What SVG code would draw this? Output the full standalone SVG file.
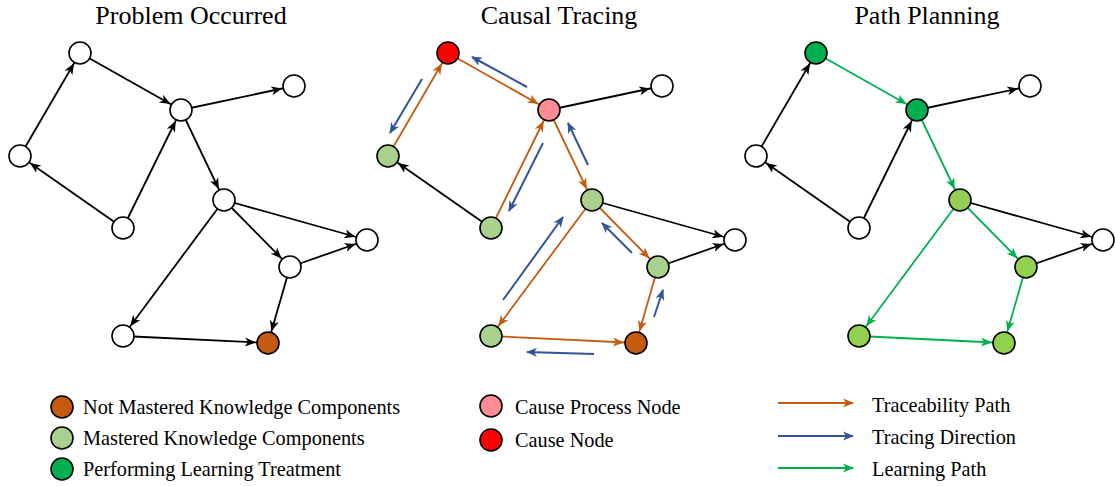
<svg xmlns="http://www.w3.org/2000/svg" width="1115" height="486" viewBox="0 0 1115 486">
<style>
.t{font-family:"Liberation Serif","Times New Roman",serif;fill:#000}
.title{font-size:26px;text-anchor:middle}
.lg{font-size:20.3px}
.n{stroke:#000;stroke-width:1.6}
.w{fill:#fff}.or{fill:#C55A11}.lgr{fill:#A9D18E}.dgr{fill:#00B050}.mgr{fill:#92D050}.pk{fill:#FF8C94}.rd{fill:#FF0000}
.e{fill:none;stroke-width:1.8}
.k{stroke:#000;marker-end:url(#mk)}
.o{stroke:#C55A11;marker-end:url(#mo)}
.g{stroke:#00B050;marker-end:url(#mg)}
.b{stroke:#2F5597;stroke-width:2;marker-end:url(#mb)}
</style>
<defs>
<marker id="mk" markerUnits="userSpaceOnUse" markerWidth="12" markerHeight="10" refX="23" refY="5" orient="auto" overflow="visible"><path d="M0,0.5 L11,5 L0,9.5 L3,5 Z" fill="#000"/></marker>
<marker id="mo" markerUnits="userSpaceOnUse" markerWidth="12" markerHeight="10" refX="23" refY="5" orient="auto" overflow="visible"><path d="M0,0.5 L11,5 L0,9.5 L3,5 Z" fill="#C55A11"/></marker>
<marker id="mg" markerUnits="userSpaceOnUse" markerWidth="12" markerHeight="10" refX="23" refY="5" orient="auto" overflow="visible"><path d="M0,0.5 L11,5 L0,9.5 L3,5 Z" fill="#00B050"/></marker>
<marker id="mb" markerUnits="userSpaceOnUse" markerWidth="12" markerHeight="10" refX="10" refY="5" orient="auto" overflow="visible"><path d="M0,0.5 L11,5 L0,9.5 L3,5 Z" fill="#2F5597"/></marker>
<marker id="lo" markerUnits="userSpaceOnUse" markerWidth="12" markerHeight="10" refX="10" refY="5" orient="auto" overflow="visible"><path d="M0,0.5 L11,5 L0,9.5 L3,5 Z" fill="#C55A11"/></marker>
<marker id="lb" markerUnits="userSpaceOnUse" markerWidth="12" markerHeight="10" refX="10" refY="5" orient="auto" overflow="visible"><path d="M0,0.5 L11,5 L0,9.5 L3,5 Z" fill="#2F5597"/></marker>
<marker id="lgm" markerUnits="userSpaceOnUse" markerWidth="12" markerHeight="10" refX="10" refY="5" orient="auto" overflow="visible"><path d="M0,0.5 L11,5 L0,9.5 L3,5 Z" fill="#00B050"/></marker>
</defs>

<g id="titles">
<text class="t title" x="191" y="23.5">Problem Occurred</text>
<text class="t title" x="559" y="23.5">Causal Tracing</text>
<text class="t title" x="927" y="23.5">Path Planning</text>
</g>

<!-- Panel 1 -->
<g id="p1-connectors">
<line class="e k" x1="20" y1="156" x2="80" y2="53"/>
<line class="e k" x1="80" y1="53" x2="181" y2="110"/>
<line class="e k" x1="123" y1="228" x2="20" y2="156"/>
<line class="e k" x1="123" y1="228" x2="181" y2="110"/>
<line class="e k" x1="181" y1="110" x2="294" y2="86"/>
<line class="e k" x1="181" y1="110" x2="224" y2="200"/>
<line class="e k" x1="224" y1="200" x2="367" y2="240"/>
<line class="e k" x1="224" y1="200" x2="290" y2="267"/>
<line class="e k" x1="224" y1="200" x2="123" y2="336"/>
<line class="e k" x1="290" y1="267" x2="367" y2="240"/>
<line class="e k" x1="290" y1="267" x2="268" y2="343"/>
<line class="e k" x1="123" y1="336" x2="268" y2="343"/>
</g>
<g id="p1-A"><circle class="n w" cx="80" cy="53" r="11"/></g>
<g id="p1-B"><circle class="n w" cx="181" cy="110" r="11"/></g>
<g id="p1-C"><circle class="n w" cx="294" cy="86" r="11"/></g>
<g id="p1-D"><circle class="n w" cx="20" cy="156" r="11"/></g>
<g id="p1-E"><circle class="n w" cx="123" cy="228" r="11"/></g>
<g id="p1-F"><circle class="n w" cx="224" cy="200" r="11"/></g>
<g id="p1-G"><circle class="n w" cx="367" cy="240" r="11"/></g>
<g id="p1-H"><circle class="n w" cx="290" cy="267" r="11"/></g>
<g id="p1-I"><circle class="n w" cx="123" cy="336" r="11"/></g>
<g id="p1-J"><circle class="n or" cx="268" cy="343" r="11"/></g>

<!-- Panel 2 -->
<g id="p2-connectors">
<line class="e o" x1="388" y1="156" x2="448" y2="53"/>
<line class="e o" x1="448" y1="53" x2="549" y2="110"/>
<line class="e k" x1="491" y1="228" x2="388" y2="156"/>
<line class="e o" x1="491" y1="228" x2="549" y2="110"/>
<line class="e k" x1="549" y1="110" x2="662" y2="86"/>
<line class="e o" x1="549" y1="110" x2="592" y2="200"/>
<line class="e k" x1="592" y1="200" x2="735" y2="240"/>
<line class="e o" x1="592" y1="200" x2="658" y2="267"/>
<line class="e o" x1="592" y1="200" x2="491" y2="336"/>
<line class="e k" x1="658" y1="267" x2="735" y2="240"/>
<line class="e o" x1="658" y1="267" x2="636" y2="343"/>
<line class="e o" x1="491" y1="336" x2="636" y2="343"/>
</g>
<g id="p2-tracing">
<line class="e b" x1="527" y1="87" x2="472" y2="57"/>
<line class="e b" x1="422" y1="79" x2="390" y2="133"/>
<line class="e b" x1="543" y1="143" x2="509" y2="211"/>
<line class="e b" x1="588" y1="165" x2="568" y2="123"/>
<line class="e b" x1="632" y1="253" x2="602" y2="223"/>
<line class="e b" x1="503" y1="300" x2="563" y2="217"/>
<line class="e b" x1="654" y1="317" x2="663" y2="290"/>
<line class="e b" x1="594" y1="354" x2="527" y2="352"/>
</g>
<g id="p2-A"><circle class="n rd" cx="448" cy="53" r="11"/></g>
<g id="p2-B"><circle class="n pk" cx="549" cy="110" r="11"/></g>
<g id="p2-C"><circle class="n w" cx="662" cy="86" r="11"/></g>
<g id="p2-D"><circle class="n lgr" cx="388" cy="156" r="11"/></g>
<g id="p2-E"><circle class="n lgr" cx="491" cy="228" r="11"/></g>
<g id="p2-F"><circle class="n lgr" cx="592" cy="200" r="11"/></g>
<g id="p2-G"><circle class="n w" cx="735" cy="240" r="11"/></g>
<g id="p2-H"><circle class="n lgr" cx="658" cy="267" r="11"/></g>
<g id="p2-I"><circle class="n lgr" cx="491" cy="336" r="11"/></g>
<g id="p2-J"><circle class="n or" cx="636" cy="343" r="11"/></g>

<!-- Panel 3 -->
<g id="p3-connectors">
<line class="e k" x1="756" y1="156" x2="816" y2="53"/>
<line class="e g" x1="816" y1="53" x2="917" y2="110"/>
<line class="e k" x1="859" y1="228" x2="756" y2="156"/>
<line class="e k" x1="859" y1="228" x2="917" y2="110"/>
<line class="e k" x1="917" y1="110" x2="1030" y2="86"/>
<line class="e g" x1="917" y1="110" x2="960" y2="200"/>
<line class="e k" x1="960" y1="200" x2="1103" y2="240"/>
<line class="e g" x1="960" y1="200" x2="1026" y2="267"/>
<line class="e g" x1="960" y1="200" x2="859" y2="336"/>
<line class="e k" x1="1026" y1="267" x2="1103" y2="240"/>
<line class="e g" x1="1026" y1="267" x2="1004" y2="343"/>
<line class="e g" x1="859" y1="336" x2="1004" y2="343"/>
</g>
<g id="p3-A"><circle class="n dgr" cx="816" cy="53" r="11"/></g>
<g id="p3-B"><circle class="n dgr" cx="917" cy="110" r="11"/></g>
<g id="p3-C"><circle class="n w" cx="1030" cy="86" r="11"/></g>
<g id="p3-D"><circle class="n w" cx="756" cy="156" r="11"/></g>
<g id="p3-E"><circle class="n w" cx="859" cy="228" r="11"/></g>
<g id="p3-F"><circle class="n mgr" cx="960" cy="200" r="11"/></g>
<g id="p3-G"><circle class="n w" cx="1103" cy="240" r="11"/></g>
<g id="p3-H"><circle class="n mgr" cx="1026" cy="267" r="11"/></g>
<g id="p3-I"><circle class="n mgr" cx="859" cy="336" r="11"/></g>
<g id="p3-J"><circle class="n mgr" cx="1004" cy="343" r="11"/></g>

<!-- Legends -->
<g id="legend-nodes">
<circle class="n or" cx="62" cy="407" r="11"/>
<text class="t lg" x="83" y="414">Not Mastered Knowledge Components</text>
<circle class="n lgr" cx="62" cy="438" r="11"/>
<text class="t lg" x="83" y="445">Mastered Knowledge Components</text>
<circle class="n dgr" cx="62" cy="469" r="11"/>
<text class="t lg" x="83" y="476">Performing Learning Treatment</text>
</g>
<g id="legend-cause">
<circle class="n pk" cx="491" cy="406" r="11"/>
<text class="t lg" x="515" y="414">Cause Process Node</text>
<circle class="n rd" cx="491" cy="440" r="11"/>
<text class="t lg" x="515" y="447">Cause Node</text>
</g>
<g id="legend-paths">
<line x1="778" y1="403" x2="853" y2="403" stroke="#C55A11" stroke-width="1.8" marker-end="url(#lo)"/>
<text class="t lg" x="872" y="412">Traceability Path</text>
<line x1="778" y1="436" x2="853" y2="436" stroke="#2F5597" stroke-width="1.8" marker-end="url(#lb)"/>
<text class="t lg" x="872" y="444">Tracing Direction</text>
<line x1="778" y1="468" x2="853" y2="468" stroke="#00B050" stroke-width="1.8" marker-end="url(#lgm)"/>
<text class="t lg" x="872" y="476">Learning Path</text>
</g>
</svg>
